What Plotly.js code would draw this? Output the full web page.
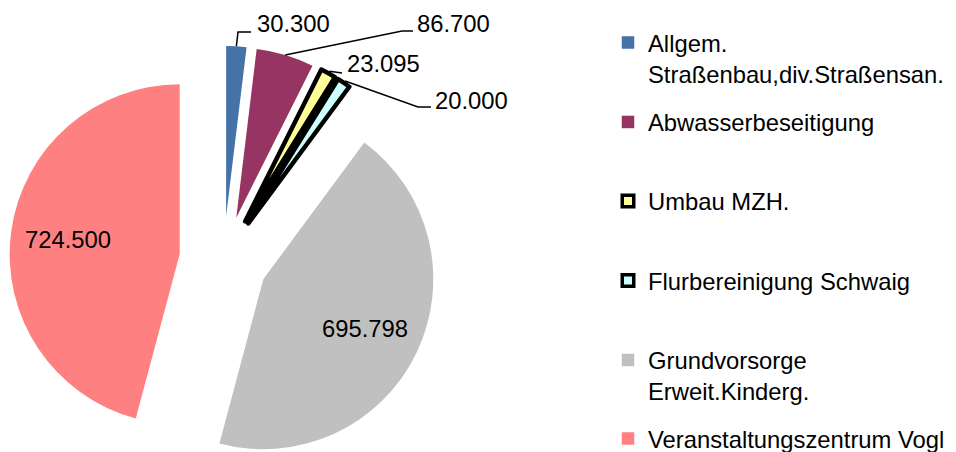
<!DOCTYPE html>
<html>
<head>
<meta charset="utf-8">
<script src="https://cdn.plot.ly/plotly-3.0.1.min.js"></script>
<style>
html,body{margin:0;padding:0;overflow:hidden;background:#fff;}
#chart{width:956px;height:480px;}
</style>
</head>
<body>
<div id="chart"></div>
<script>
// ---- data ----
var categories = [
  'Allgem.<br>Straßenbau,div.Straßensan.',
  'Abwasserbeseitigung',
  'Umbau MZH.',
  'Flurbereinigung Schwaig',
  'Grundvorsorge<br>Erweit.Kinderg.',
  'Veranstaltungszentrum Vogl'
];
var values = [30.300, 86.700, 23.095, 20.000, 695.798, 724.500];

// ---- style / layout constants ----
var W = 956, H = 480;
var colors = ['#4572A7', '#963463', '#FFFF99', '#CCFFFF', '#C0C0C0', '#FF8080'];
var lineColors = ['#ffffff', '#ffffff', '#000000', '#000000', '#ffffff', '#ffffff'];
var lineWidths = [0, 0, 4.5, 4.5, 0, 0];
var pull = 0.26;
var domX = [0.00973, 0.4578];
var domY = [0.0121, 0.9046];
var FONT = 'Liberation Sans, Arial, sans-serif';
var FS = 23.8;
var insideSlices = [false, false, false, false, true, true];
var insideFrac = 0.665;
// outside label placement (pixels): label left x, label centre y, tick y, elbow x, tick end x
var outLabelX = [255, 415, 345, 433];
var outLabelY = [23.5, 23, 63.5, 100];
var tickY = [32, 31, 73, 107];
var elbowX = [238, 402, null, 418];
var tickEndX = [251, 413, 342, 431];
// legend symbol centres (pixels)
var legendSymY = [43, 122.5, 201.5, 281, 360.5, 439];
var legendLeftX = 608;
var legendTopOffset = 22.5;

// ---- geometry from plotly's pie sizing rule ----
var cx = W * (domX[0] + domX[1]) / 2;
var cy = H * (1 - (domY[0] + domY[1]) / 2);
var r = Math.min(W * (domX[1] - domX[0]), H * (domY[1] - domY[0])) / 2 / (1 + pull);
var total = values.reduce(function (a, b) { return a + b; }, 0);
function px(x) { return x / W; }
function py(y) { return 1 - y / H; }

var pie = {
  type: 'pie',
  labels: categories,
  values: values,
  sort: false,
  direction: 'clockwise',
  rotation: 0,
  pull: values.map(function () { return pull; }),
  marker: { colors: colors, line: { color: lineColors, width: lineWidths } },
  textinfo: 'none',
  hoverinfo: 'label+value',
  showlegend: false,
  domain: { x: domX, y: domY }
};

var traces = [pie];
var layoutLegends = {};
categories.forEach(function (c, i) {
  var key = i === 0 ? 'legend' : 'legend' + (i + 1);
  traces.push({
    type: 'scatter', mode: 'markers', x: [null], y: [null],
    name: c, legend: key, showlegend: true, hoverinfo: 'skip',
    marker: {
      symbol: 'square',
      size: lineWidths[i] > 0 ? 11.5 : 12.5,
      color: colors[i],
      line: { color: lineWidths[i] > 0 ? '#000' : colors[i], width: lineWidths[i] > 0 ? 3.5 : 0 }
    }
  });
  layoutLegends[key] = {
    x: px(legendLeftX), y: py(legendSymY[i] - legendTopOffset),
    xanchor: 'left', yanchor: 'top',
    bgcolor: 'rgba(0,0,0,0)', borderwidth: 0,
    valign: 'top',
    font: { family: FONT, size: FS, color: '#000' }
  };
});

// value labels, anchored on the slice mid-angles
var annotations = [], shapes = [];
var cum = 0, k = 0;
values.forEach(function (v, i) {
  var a0 = cum / total * 2 * Math.PI;
  cum += v;
  var a1 = cum / total * 2 * Math.PI;
  var am = (a0 + a1) / 2;
  var sn = Math.sin(am), cs = Math.cos(am);
  if (insideSlices[i]) {
    // slice centre after pull, then along the mid-angle
    var scx = cx + pull * r * sn, scy = cy - pull * r * cs;
    annotations.push({
      xref: 'paper', yref: 'paper',
      x: px(scx + insideFrac * r * sn), y: py(scy - insideFrac * r * cs),
      xanchor: 'center', yanchor: 'middle', showarrow: false,
      text: v.toFixed(3), font: { family: FONT, size: FS, color: '#000' }
    });
    return;
  }
  var R = r * (1 + pull) + (lineWidths[i] > 0 ? lineWidths[i] / 2 : 0);
  var sx = cx + R * sn, sy = cy - R * cs;
  var path = 'M' + px(sx) + ',' + py(sy);
  if (elbowX[k] !== null) path += ' L' + px(elbowX[k]) + ',' + py(tickY[k]);
  path += ' L' + px(tickEndX[k]) + ',' + py(tickY[k]);
  shapes.push({ type: 'path', xref: 'paper', yref: 'paper', path: path,
    line: { color: '#000', width: 1.5 } });
  annotations.push({
    xref: 'paper', yref: 'paper', x: px(outLabelX[k]), y: py(outLabelY[k]),
    xanchor: 'left', yanchor: 'middle', showarrow: false,
    text: v.toFixed(3), font: { family: FONT, size: FS, color: '#000' }
  });
  k++;
});

var layout = Object.assign({
  width: W, height: H,
  margin: { l: 0, r: 0, t: 0, b: 0, pad: 0 },
  paper_bgcolor: '#fff', plot_bgcolor: '#fff',
  xaxis: { visible: false }, yaxis: { visible: false },
  annotations: annotations, shapes: shapes,
  font: { family: FONT, size: FS, color: '#000' }
}, layoutLegends);

Plotly.newPlot('chart', traces, layout, { staticPlot: true, displayModeBar: false });
</script>
</body>
</html>
